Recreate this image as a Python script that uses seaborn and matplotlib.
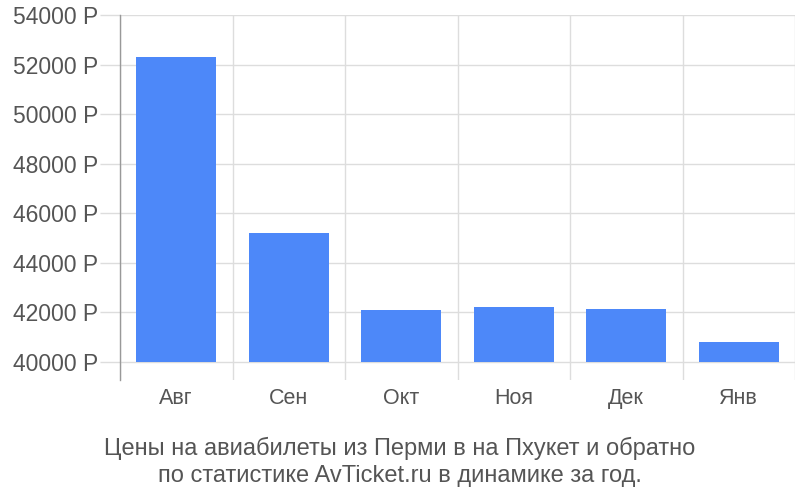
import matplotlib
matplotlib.use("Agg")
import matplotlib.pyplot as plt
import seaborn as sns
import pandas as pd
from matplotlib.ticker import FixedLocator

months = ["Авг", "Сен", "Окт", "Ноя", "Дек", "Янв"]
prices = [52300, 45200, 42100, 42200, 42150, 40800]
yticks = [40000, 42000, 44000, 46000, 48000, 50000, 52000, 54000]
ytick_labels = [f"{v} Р" for v in yticks]
caption = "Цены на авиабилеты из Перми в на Пхукет и обратно\nпо статистике AvTicket.ru в динамике за год."
base = 40000

sns.set_theme(style="white")
plt.rcParams['font.family'] = ['Liberation Sans', 'DejaVu Sans']

df = pd.DataFrame({"month": months, "price": prices})

fig = plt.figure(figsize=(8, 5), dpi=100)
ax = fig.add_axes([0.15, 0.24, 0.84375, 0.73])

sns.barplot(data=df, x="month", y="price", color="#4d88f9", saturation=1,
            width=0.715, ax=ax, zorder=3)
for p in ax.patches:
    h = p.get_height()
    p.set_y(base)
    p.set_height(h - base)
    p.set_edgecolor("none")

ax.set_ylim(39270, 54000)
ax.set_xlim(-0.5, len(months) - 0.5)

ax.set_yticks(yticks)
ax.set_yticklabels(ytick_labels, fontsize=16.5, color="#555555")
ax.yaxis.grid(True, color="#dddddd", linewidth=1, zorder=0)
ax.tick_params(axis="y", length=14.4, width=1, color="#dddddd", pad=1.5, left=True)

ax.set_xticks(range(len(months)))
ax.set_xticklabels(months, fontsize=15.5, color="#555555")
ax.tick_params(axis="x", length=0, pad=6)
ax.xaxis.set_minor_locator(FixedLocator([i - 0.5 for i in range(len(months) + 1)]))
ax.xaxis.grid(True, which="minor", color="#dddddd", linewidth=1, zorder=0)
ax.tick_params(axis="x", which="minor", length=0)

for s in ["top", "right", "bottom"]:
    ax.spines[s].set_visible(False)
ax.spines["left"].set_color("#999999")
ax.spines["left"].set_linewidth(1)
ax.set_xlabel("")
ax.set_ylabel("")

fig.text(0.5, 0.077, caption, ha="center", va="center", fontsize=17,
         color="#555555", linespacing=1.3)

fig.savefig("out.png", dpi=100)
